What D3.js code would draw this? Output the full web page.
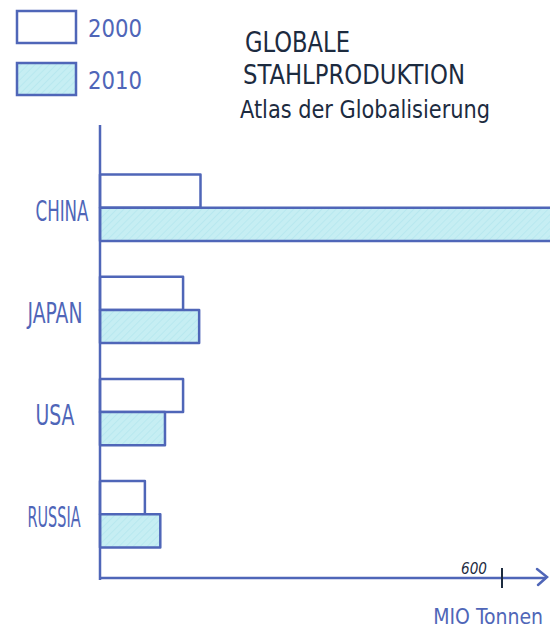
<!DOCTYPE html>
<html><head><meta charset="utf-8">
<script src="https://cdn.jsdelivr.net/npm/d3@7"></script>
<style>body{margin:0;background:#fff}svg{display:block}</style>
</head><body><svg id="c" width="550" height="637"></svg>
<script>
const countries = ["CHINA","JAPAN","USA","RUSSIA"];
const years = ["2000","2010"];
const values2000 = [150, 124, 124, 67];
const values2010 = [680, 148, 97, 90];
const xTicks = [600];
const titleLines = ["GLOBALE","STAHLPRODUKTION","Atlas der Globalisierung"];
const unitLabel = "MIO Tonnen";

const blue = "#4f66b8", dark = "#1c2b3f", cyan = "#c6eef3";
const font = "DejaVu Sans Condensed, DejaVu Sans";
const svg = d3.select("#c");
const defs = svg.append("defs");
const pat = defs.append("pattern").attr("id","hatch").attr("patternUnits","userSpaceOnUse")
  .attr("width",5).attr("height",5).attr("patternTransform","rotate(45)");
pat.append("rect").attr("width",5).attr("height",5).attr("fill",cyan);
pat.append("line").attr("x1",0).attr("y1",0).attr("x2",0).attr("y2",5).attr("stroke","#b3e6ee").attr("stroke-width",1.5);
svg.append("clipPath").attr("id","clip").append("rect").attr("x",0).attr("y",0).attr("width",550).attr("height",637);

const x = d3.scaleLinear().domain([0,600]).range([100,502]);
const y = d3.scaleBand().domain(countries).range([123.5,598.5]).paddingInner(0.35).paddingOuter(0.5);
const yi = d3.scaleBand().domain(years).range([0,y.bandwidth()]);

const rows = countries.map((c,i)=>({c, v:[values2000[i], values2010[i]]}));
const g = svg.append("g").attr("clip-path","url(#clip)");
rows.forEach(r=>{
  years.forEach((yr,j)=>{
    g.append("rect").attr("x",x(0)).attr("y",y(r.c)+yi(yr))
      .attr("width",x(r.v[j])-x(0)).attr("height",yi.bandwidth())
      .attr("fill", j===0?"#fff":"url(#hatch)")
      .attr("stroke",blue).attr("stroke-width",2.5).attr("stroke-linejoin","round");
  });
});

// axes
svg.append("line").attr("x1",x(0)).attr("x2",x(0)).attr("y1",125).attr("y2",580).attr("stroke",blue).attr("stroke-width",2.5);
svg.append("line").attr("x1",x(0)).attr("x2",546).attr("y1",578).attr("y2",578).attr("stroke",blue).attr("stroke-width",2.5);
svg.append("path").attr("d","M537,569 L547,577 L538,585").attr("fill","none").attr("stroke",blue).attr("stroke-width",2.5).attr("stroke-linecap","round");
xTicks.forEach(t=>{
  svg.append("line").attr("x1",x(t)).attr("x2",x(t)).attr("y1",568).attr("y2",588).attr("stroke",dark).attr("stroke-width",2);
  svg.append("text").attr("x",x(t)-28).attr("y",574).attr("text-anchor","middle")
    .attr("font-family",font).attr("font-size",15).attr("fill",dark).attr("font-style","italic")
    .attr("textLength",26).attr("lengthAdjust","spacingAndGlyphs").text(t);
});
svg.append("text").attr("x",543).attr("y",624).attr("text-anchor","end")
  .attr("font-family",font).attr("font-size",21).attr("fill",blue).text(unitLabel);

// category labels
const labelX = {CHINA:62, JAPAN:55, USA:55, RUSSIA:54};
const labelW = {CHINA:53, JAPAN:55, USA:39, RUSSIA:53};
rows.forEach(r=>{
  svg.append("text").attr("x",labelX[r.c]-labelW[r.c]/2).attr("y",y(r.c)+yi.bandwidth()+13)
    .attr("font-family",font).attr("font-size",29).attr("fill",blue)
    .attr("textLength", labelW[r.c]).attr("lengthAdjust","spacingAndGlyphs").text(r.c);
});

// legend
years.forEach((yr,j)=>{
  svg.append("rect").attr("x",17).attr("y",11+j*52).attr("width",59).attr("height",32)
    .attr("fill", j===0?"#fff":"url(#hatch)").attr("stroke",blue).attr("stroke-width",2.5);
  svg.append("text").attr("x",88).attr("y",37+j*52).attr("font-family",font)
    .attr("font-size",24).attr("fill",blue).attr("textLength",54).attr("lengthAdjust","spacingAndGlyphs").text(yr);
});

// title
const tl = svg.append("g").attr("font-family",font).attr("fill",dark);
tl.append("text").attr("x",245).attr("y",52).attr("font-size",28).attr("textLength",105).attr("lengthAdjust","spacingAndGlyphs").text(titleLines[0]);
tl.append("text").attr("x",243).attr("y",84).attr("font-size",27).attr("textLength",222).attr("lengthAdjust","spacingAndGlyphs").text(titleLines[1]);
tl.append("text").attr("x",240).attr("y",118).attr("font-size",24).attr("textLength",250).attr("lengthAdjust","spacingAndGlyphs").text(titleLines[2]);
</script></body></html>
